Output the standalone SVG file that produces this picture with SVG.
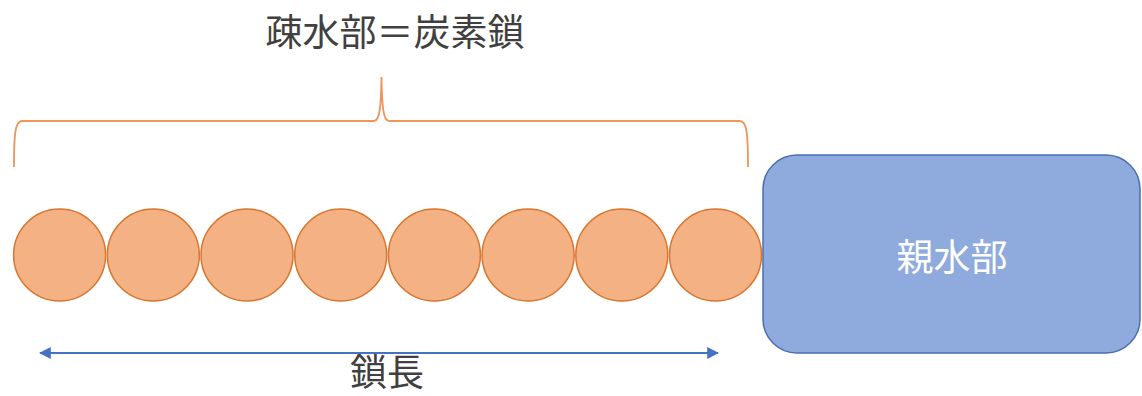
<svg xmlns="http://www.w3.org/2000/svg" width="1142" height="396" viewBox="0 0 1142 396">
<defs>
<style>
.atom{fill:#F4B183;stroke:#D8752E;stroke-width:1.5}
.lbl{font-family:"Noto Sans CJK JP","Noto Sans",sans-serif;font-size:37px;text-anchor:middle}
.brace{fill:none;stroke:#F0955A;stroke-width:1.8}
.dim{stroke:#4472C4;stroke-width:2;fill:none}
</style>
<marker id="ah" viewBox="0 0 10 10" refX="9" refY="5" markerWidth="6" markerHeight="6" orient="auto-start-reverse" markerUnits="strokeWidth">
<path d="M0,0 L10,5 L0,10 z" fill="#4472C4"/>
</marker>
</defs>
<rect width="1142" height="396" fill="#fff"/>
<g id="title"><text class="lbl" x="395" y="46" fill="#404040">疎水部＝炭素鎖</text></g>
<g id="chain">
<circle class="atom" cx="59.6" cy="255" r="46"/>
<circle class="atom" cx="153.3" cy="255" r="46"/>
<circle class="atom" cx="247" cy="255" r="46"/>
<circle class="atom" cx="340.7" cy="255" r="46"/>
<circle class="atom" cx="434.4" cy="255" r="46"/>
<circle class="atom" cx="528.1" cy="255" r="46"/>
<circle class="atom" cx="621.8" cy="255" r="46"/>
<circle class="atom" cx="715.5" cy="255" r="46"/>
</g>
<g id="head">
<rect x="763" y="155" width="377" height="198" rx="34" ry="34" fill="#8FAADC" stroke="#4A6FB0" stroke-width="1.5"/>
<text class="lbl" x="952" y="271" fill="#fff">親水部</text>
</g>
<g id="connectors">
<path class="brace" d="M14,167 C14,135 15,121 22,121 L374,121 C380,121 381,105 381.5,77 C382,105 383,121 389,121 L740,121 C747,121 748,135 748,167"/>
<line class="dim" x1="40" y1="353" x2="718" y2="353" marker-start="url(#ah)" marker-end="url(#ah)"/>
</g>
<g id="length"><text class="lbl" x="387" y="386" font-size="36" fill="#404040">鎖長</text></g>
</svg>
